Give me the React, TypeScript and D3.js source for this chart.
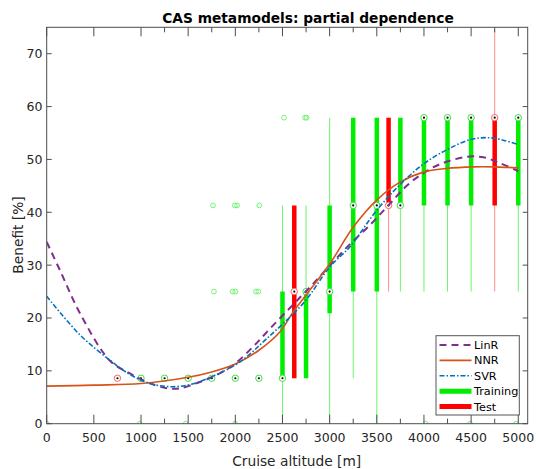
import React from "react";
import * as d3 from "d3";

// ---------- data ----------
const boxX = [750, 1000, 1250, 1500, 1750, 2000, 2250, 2500, 2625, 2750, 3000, 3250, 3500, 3625, 3750, 4000, 4250, 4500, 4750, 5000];
const boxGroup = ["Test", "Training", "Training", "Training", "Training", "Training", "Training", "Training", "Test", "Training", "Training", "Training", "Training", "Test", "Training", "Training", "Training", "Training", "Test", "Training"];
const boxMin = [8.6, 8.6, 8.6, 8.6, 8.6, 8.6, 8.6, 0, 8.6, 8.6, 0, 8.6, 0, 25, 25, 25, 25, 25, 25, 25];
const boxQ1 = [8.6, 8.6, 8.6, 8.6, 8.6, 8.6, 8.6, 8.6, 8.6, 8.6, 20.9, 25, 25, 41.3, 41.3, 41.3, 41.3, 41.3, 41.3, 41.3];
const boxMed = [8.6, 8.6, 8.6, 8.6, 8.6, 8.6, 8.6, 8.6, 25, 25, 25, 41.3, 41.3, 41.3, 41.3, 57.9, 57.9, 57.9, 57.9, 57.9];
const boxQ3 = [8.6, 8.6, 8.6, 8.6, 8.6, 8.6, 8.6, 25, 41.3, 25, 41.3, 57.9, 57.9, 57.9, 57.9, 57.9, 57.9, 57.9, 57.9, 57.9];
const boxMax = [8.6, 8.6, 8.6, 8.6, 8.6, 8.6, 8.6, 41.3, 41.3, 41.3, 57.9, 57.9, 57.9, 57.9, 57.9, 57.9, 57.9, 57.9, 74.5, 57.9];

const outlierX = [0, 986, 1474, 1997, 1773, 1972, 2000, 2219, 2244, 1763, 1994, 2018, 2254, 2516, 2739, 2755, 4019, 4489, 4977];
const outlierY = [0, 0, 0, 0, 25, 25, 25, 25, 25, 41.3, 41.3, 41.3, 41.3, 57.9, 57.9, 57.9, 0, 0, 0];

const linRX = [0, 141, 353, 671, 883, 1059, 1272, 1413, 1625, 1764, 1978, 2190, 2368, 2600, 2800, 3000, 3200, 3428, 3622, 3817, 3993, 4170, 4453, 4630, 4807, 5000];
const linRY = [34.4, 29.0, 20.9, 11.9, 9.5, 7.9, 6.7, 6.7, 7.9, 8.9, 11.1, 14.6, 18.0, 22.3, 26.0, 29.9, 33.7, 37.6, 41.3, 45.0, 47.4, 49.1, 50.5, 50.4, 49.3, 47.8];

const nnrX = [0, 500, 1000, 1500, 1750, 2000, 2250, 2474, 2615, 2757, 3004, 3251, 3499, 3746, 3993, 4241, 4523, 4735, 5000];
const nnrY = [7.1, 7.3, 7.6, 8.8, 9.8, 11.3, 13.9, 17.4, 21.2, 24.5, 30.3, 37.2, 42.3, 45.7, 47.6, 48.3, 48.6, 48.6, 48.4];

const svrX = [0, 353, 671, 883, 1096, 1307, 1520, 1764, 2050, 2333, 2721, 3004, 3216, 3500, 3750, 4000, 4250, 4500, 4700, 4850, 5000];
const svrY = [24.1, 16.8, 12.0, 9.3, 7.6, 7.0, 7.4, 9.0, 11.7, 16.1, 22.8, 29.7, 33.5, 40.4, 45.3, 49.2, 51.9, 53.8, 54.1, 53.6, 52.8];

const xTickValues = [0, 500, 1000, 1250, 1500, 1750, 2000, 2250, 2500, 2750, 3000, 3250, 3500, 3750, 4000, 4250, 4500, 4750, 5000];
const yTickValues = [0, 10, 20, 30, 40, 50, 60, 70];
const legendLabels = ["LinR", "NNR", "SVR", "Training", "Test"];

// ---------- layout ----------
const W = 536, H = 469;
const L = 46.7, R = 527.7, T = 27.3, B = 423.7;
const FONT = "DejaVu Sans, sans-serif";
const AX = "#4d4d4d";

const colors = {
  LinR: "#7E2F8E",
  NNR: "#D95319",
  SVR: "#0072BD",
  Training: "#00ee00",
  Test: "#ff0000",
};
const thin = { Training: "#6cf56c", Test: "#ff8c8c" };
const ring = { Training: "#3ee03e", Test: "#ff6060" };

export default function App() {
  const xs = d3.scaleLinear().domain([0, 5100]).range([L, R]);
  const ys = d3.scaleLinear().domain([0, 75]).range([B, T]);

  const line = d3
    .line<number>()
    .x((d) => d)
    .y((d) => d)
    .curve(d3.curveCatmullRom.alpha(0.5));

  const mk = (X: number[], Y: number[]) =>
    d3
      .line<number>()
      .x((_, i) => xs(X[i]))
      .y((_, i) => ys(Y[i]))
      .curve(d3.curveCatmullRom.alpha(0.5))(X) || "";

  const legendY = [345, 360.4, 375.8, 391.2, 406.6];

  return (
    <svg
      width={W}
      height={H}
      style={{ position: "absolute", left: 0, top: 0, background: "#fff" }}
      fontFamily={FONT}
    >
      <defs>
        <clipPath id="plot">
          <rect x={L} y={T} width={R - L} height={B - T} />
        </clipPath>
      </defs>
      <rect x={0} y={0} width={W} height={H} fill="#fff" />

      <g clipPath="url(#plot)">
        {/* whiskers */}
        {boxX.map((x, i) => (
          <line
            key={"w" + i}
            x1={xs(x)}
            x2={xs(x)}
            y1={ys(boxMin[i])}
            y2={ys(boxMax[i])}
            stroke={thin[boxGroup[i] as "Training" | "Test"]}
            strokeWidth={1}
          />
        ))}
        {/* boxes */}
        {boxX.map((x, i) =>
          boxQ3[i] > boxQ1[i] ? (
            <line
              key={"b" + i}
              x1={xs(x)}
              x2={xs(x)}
              y1={ys(boxQ1[i])}
              y2={ys(boxQ3[i])}
              stroke={colors[boxGroup[i] as "Training" | "Test"]}
              strokeWidth={4.5}
            />
          ) : null
        )}
        {/* outliers */}
        {outlierX.map((x, i) => (
          <circle
            key={"o" + i}
            cx={xs(x)}
            cy={ys(outlierY[i])}
            r={2.4}
            fill="none"
            stroke="#66f066"
            strokeWidth={0.9}
          />
        ))}
        {/* medians */}
        {boxX.map((x, i) => (
          <g key={"m" + i}>
            <circle
              cx={xs(x)}
              cy={ys(boxMed[i])}
              r={3.2}
              fill="#fff"
              stroke={ring[boxGroup[i] as "Training" | "Test"]}
              strokeWidth={1}
            />
            <circle cx={xs(x)} cy={ys(boxMed[i])} r={1.1} fill="#000" />
          </g>
        ))}
        {/* model curves */}
        <path d={mk(linRX, linRY)} fill="none" stroke={colors.LinR} strokeWidth={2} strokeDasharray="7,5" />
        <path d={mk(nnrX, nnrY)} fill="none" stroke={colors.NNR} strokeWidth={1.6} />
        <path d={mk(svrX, svrY)} fill="none" stroke={colors.SVR} strokeWidth={1.6} strokeDasharray="5,2,1.5,2" />
      </g>

      {/* axes box */}
      <rect x={L} y={T} width={R - L} height={B - T} fill="none" stroke={AX} strokeWidth={1} />

      {/* x ticks */}
      {xTickValues.map((v) => {
        const major = v % 500 === 0;
        const len = major ? 9 : 5;
        const x = xs(v);
        return (
          <g key={"xt" + v}>
            <line x1={x} x2={x} y1={B} y2={B - len} stroke={AX} strokeWidth={1} />
            <line x1={x} x2={x} y1={T} y2={T + len} stroke={AX} strokeWidth={1} />
            {major ? (
              <text x={x} y={441.5} textAnchor="middle" fontSize={12.5} fill="#262626">
                {v}
              </text>
            ) : null}
          </g>
        );
      })}

      {/* y ticks */}
      {yTickValues.map((v) => {
        const y = ys(v);
        return (
          <g key={"yt" + v}>
            <line x1={L} x2={L + 5} y1={y} y2={y} stroke={AX} strokeWidth={1} />
            <line x1={R} x2={R - 5} y1={y} y2={y} stroke={AX} strokeWidth={1} />
            <text x={42.5} y={y + 4.5} textAnchor="end" fontSize={12.5} fill="#262626">
              {v}
            </text>
          </g>
        );
      })}

      {/* title & labels */}
      <text x={308} y={23} textAnchor="middle" fontSize={13.75} fontWeight="bold" fill="#000">
        CAS metamodels: partial dependence
      </text>
      <text x={296.7} y={466} textAnchor="middle" fontSize={13.75} fill="#262626">
        Cruise altitude [m]
      </text>
      <text
        transform="translate(22.5,235) rotate(-90)"
        textAnchor="middle"
        fontSize={13.75}
        fill="#262626"
      >
        Benefit [%]
      </text>

      {/* legend */}
      <rect x={436} y={335.7} width={83.3} height={79.3} fill="#fff" stroke="#555" strokeWidth={1} />
      {legendLabels.map((lab, i) => {
        const y = legendY[i];
        const c = colors[lab as keyof typeof colors];
        let sw = 1.6;
        let dash: string | undefined;
        if (lab === "LinR") {
          sw = 2;
          dash = "7,5";
        } else if (lab === "SVR") {
          dash = "5,2,1.5,2";
        } else if (lab === "Training" || lab === "Test") {
          sw = 5;
        }
        return (
          <g key={"lg" + lab}>
            <line x1={439.5} x2={471.5} y1={y} y2={y} stroke={c} strokeWidth={sw} strokeDasharray={dash} />
            <text x={474} y={y + 4} fontSize={11.25} fill="#000">
              {lab}
            </text>
          </g>
        );
      })}
    </svg>
  );
}
